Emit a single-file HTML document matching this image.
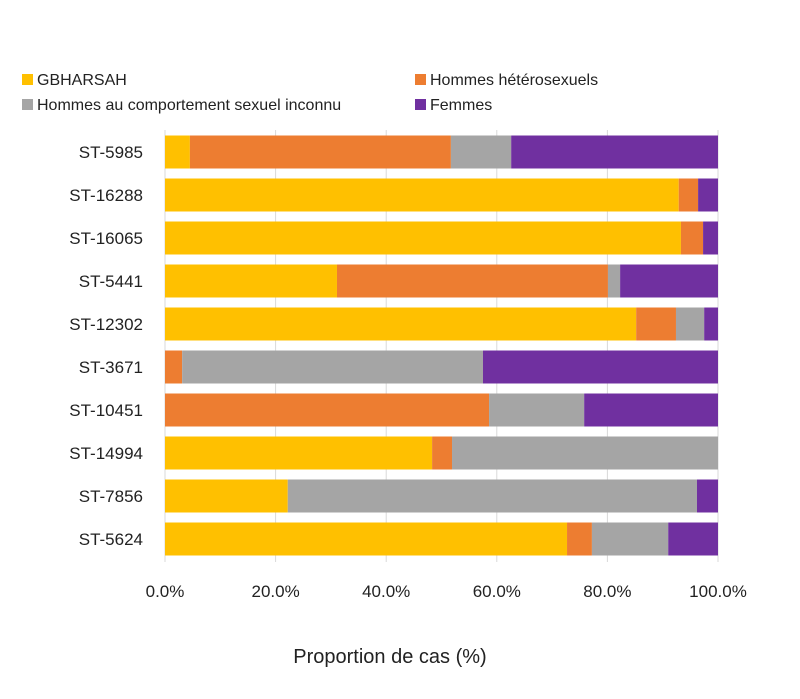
<!DOCTYPE html>
<html><head><meta charset="utf-8"><style>
body{margin:0;background:#fff;font-family:"Liberation Sans",Calibri,sans-serif;}
svg text{font-family:"Liberation Sans",sans-serif;fill:#222;}
</style></head><body>
<svg id="c" width="800" height="694"></svg>
<script>
const categories=["ST-5985","ST-16288","ST-16065","ST-5441","ST-12302","ST-3671","ST-10451","ST-14994","ST-7856","ST-5624"];
const gbharsah=[4.5,92.9,93.3,31.1,85.2,0,0,48.3,22.2,72.7];
const hetero=[47.2,3.5,4.0,49.0,7.2,3.1,58.6,3.6,0,4.5];
const inconnu=[10.9,0,0,2.2,5.1,54.4,17.2,48.1,74.0,13.8];
const femmes=[37.4,3.6,2.7,17.7,2.5,42.5,24.2,0,3.8,9.0];
const tickLabels=["0.0%","20.0%","40.0%","60.0%","80.0%","100.0%"];
const tickValues=[0,20,40,60,80,100];
const series=[["gbharsah",gbharsah,"#FFC000"],["hetero",hetero,"#ED7D31"],["inconnu",inconnu,"#A5A5A5"],["femmes",femmes,"#7030A0"]];
const NS="http://www.w3.org/2000/svg",svg=document.getElementById("c");
const x=v=>165+v*5.53, yc=i=>152+i*43, bh=33;
function mk(t,a,txt){const e=document.createElementNS(NS,t);for(const k in a)e.setAttribute(k,a[k]);if(txt!=null)e.textContent=txt;svg.appendChild(e);return e;}
tickValues.forEach((v,i)=>{
 const g=mk("line",{x1:x(v),x2:x(v),y1:130,y2:562,stroke:"#d9d9d9","stroke-width":1});
 
 
 const t=mk("text",{x:x(v),y:597,"text-anchor":"middle","font-size":17},tickLabels[i]);
 
 
});
categories.forEach((c,i)=>{
 let acc=0;
 series.forEach(s=>{
  const v=s[1][i];
  if(v>0){const r=mk("rect",{x:x(acc),y:yc(i)-bh/2,width:x(acc+v)-x(acc),height:bh,fill:s[2]});
  
  }
  acc+=v;
 });
 const t=mk("text",{x:143,y:yc(i)+6,"text-anchor":"end","font-size":17},c);
 
 
});
const leg=[["GBHARSAH","#FFC000",22,80],["Hommes hétérosexuels","#ED7D31",415,80],["Hommes au comportement sexuel inconnu","#A5A5A5",22,105],["Femmes","#7030A0",415,105]];
leg.forEach(l=>{
 const r=mk("rect",{x:l[2],y:l[3]-6,width:11,height:11,fill:l[1]});
 
 
 const t=mk("text",{x:l[2]+15,y:l[3]+5,"font-size":16},l[0]);
 
 
});
const xt=mk("text",{x:390,y:663,"text-anchor":"middle","font-size":20},"Proportion de cas (%)");


</script>
</body></html>
